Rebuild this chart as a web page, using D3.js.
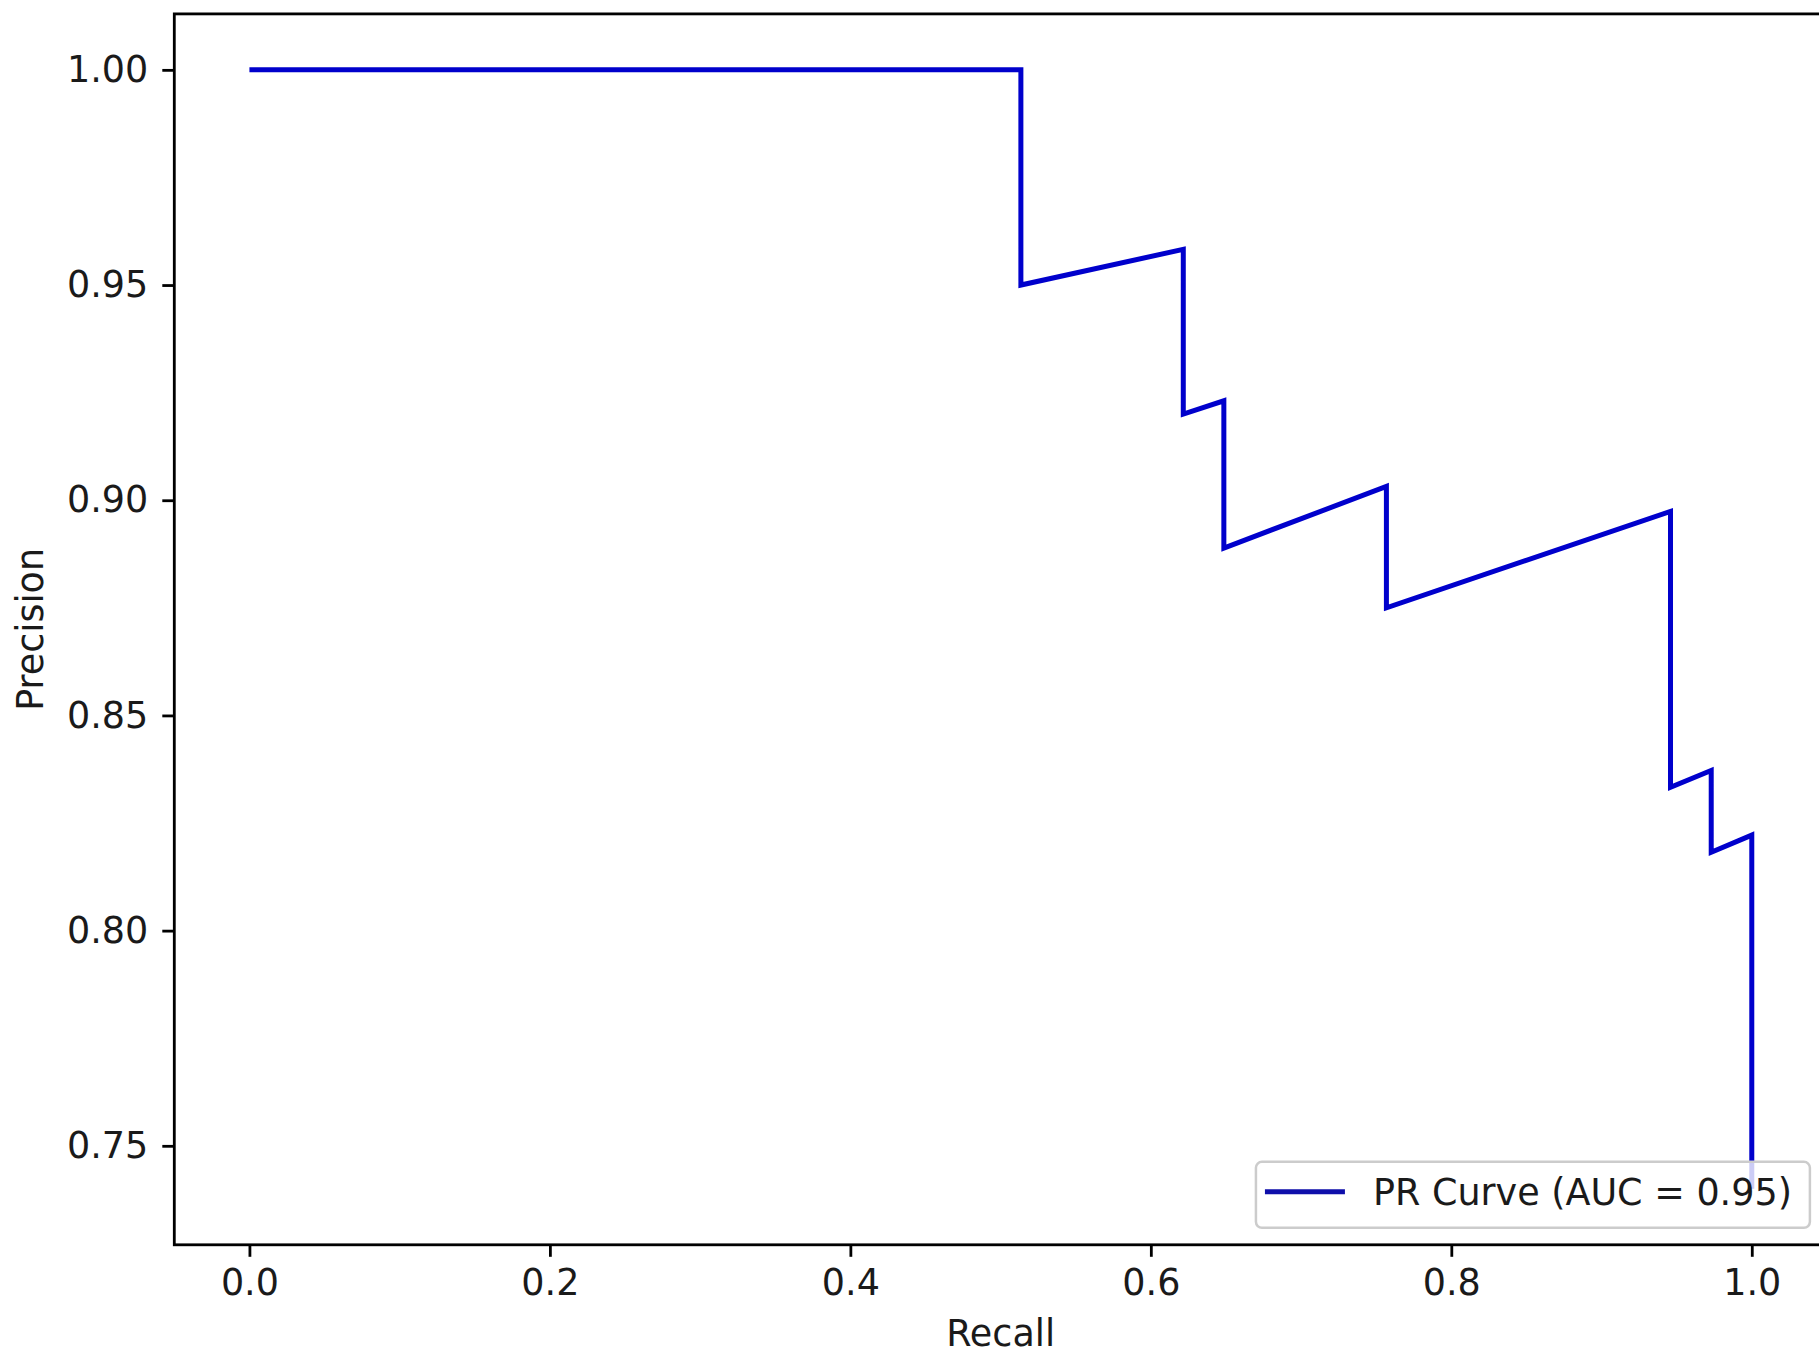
<!DOCTYPE html>
<html>
<head>
<meta charset="utf-8">
<script src="https://cdn.jsdelivr.net/npm/d3@7"></script>
<style>
  body { margin: 0; background: #fff; }
  text { font-family: "DejaVu Sans", sans-serif; }
</style>
</head>
<body>
<div id="chart-area"></div>
<script>
// values
var recall    = [0, 0.5135, 0.5135, 0.6216, 0.6216, 0.6486, 0.6486, 0.7568, 0.7568, 0.9459, 0.9459, 0.9730, 0.9730, 1.0, 1.0];
var precision = [1.0, 1.0, 0.9500, 0.9583, 0.9200, 0.9231, 0.8889, 0.9032, 0.8750, 0.8974, 0.8333, 0.8372, 0.8182, 0.8222, 0.7400];
var xTicks = [0.0, 0.2, 0.4, 0.6, 0.8, 1.0];
var yTicks = [0.75, 0.80, 0.85, 0.90, 0.95, 1.00];
var seriesLabel = "PR Curve (AUC = 0.95)";

var W = 1819, H = 1356;
var margin = {left: 174.3, top: 13.9};
var width = 1652.6, height = 1230.9;
var fs = 36.5;

var svg = d3.select("#chart-area").append("svg")
            .attr("width", W)
            .attr("height", H);

var g = svg.append("g")
           .attr("transform", "translate(" + margin.left + "," + margin.top + ")");

var data = recall.map((r, i) => { return {r: r, p: precision[i]}; });

// matplotlib style 5% margins
var xr = d3.extent(data, d => d.r), yr = d3.extent(data, d => d.p);
var xpad = (xr[1] - xr[0]) * 0.05, ypad = (yr[1] - yr[0]) * 0.05;

var x = d3.scaleLinear()
          .domain([xr[0] - xpad, xr[1] + xpad])
          .range([0, width]);

var y = d3.scaleLinear()
          .domain([yr[0] - ypad, yr[1] + ypad])
          .range([height, 0]);

// axes
var xAxis = g.append("g")
             .attr("transform", "translate(0," + height + ")")
             .call(d3.axisBottom(x).tickValues(xTicks).tickFormat(d3.format(".1f"))
                     .tickSize(12).tickPadding(12));
var yAxis = g.append("g")
             .call(d3.axisLeft(y).tickValues(yTicks).tickFormat(d3.format(".2f"))
                     .tickSize(12).tickPadding(14));

[xAxis, yAxis].forEach((a) => {
  a.select(".domain").remove();
  a.selectAll("line").attr("stroke", "#000").attr("stroke-width", 2.8);
  a.selectAll("text").attr("font-size", fs).attr("fill", "#1a1a1a")
   .style("font-family", "'DejaVu Sans', sans-serif");
});

// curve
var line = d3.line()
             .x(d => x(d.r))
             .y(d => y(d.p));

g.append("path")
 .datum(data)
 .attr("d", line)
 .attr("fill", "none")
 .attr("stroke", "#0000cc")
 .attr("stroke-width", 5)
 .attr("stroke-linejoin", "miter");

// frame
g.append("rect")
 .attr("x", 0).attr("y", 0)
 .attr("width", width).attr("height", height)
 .attr("fill", "none")
 .attr("stroke", "#000")
 .attr("stroke-width", 2.8);

// axis labels
svg.append("text")
   .attr("x", margin.left + width / 2)
   .attr("y", 1346)
   .attr("text-anchor", "middle")
   .attr("font-size", fs)
   .attr("fill", "#1a1a1a")
   .text("Recall");

svg.append("text")
   .attr("transform", "translate(43," + (margin.top + height / 2) + ") rotate(-90)")
   .attr("text-anchor", "middle")
   .attr("font-size", fs)
   .attr("fill", "#1a1a1a")
   .text("Precision");

// legend, lower right
var leg = g.append("g");
var legText = leg.append("text")
                 .attr("font-size", fs)
                 .attr("fill", "#1a1a1a")
                 .text(seriesLabel);
var tw = legText.node().getComputedTextLength();
var boxW = 117 + tw + 18, boxH = 66;
var bx = width - 17 - boxW, by = height - 17 - boxH;

leg.insert("rect", "text")
   .attr("x", bx).attr("y", by)
   .attr("width", boxW).attr("height", boxH)
   .attr("rx", 6)
   .attr("fill", "#fff").attr("fill-opacity", 0.8)
   .attr("stroke", "#cccccc").attr("stroke-width", 2.5);

leg.insert("line", "text")
   .attr("x1", bx + 9).attr("x2", bx + 89)
   .attr("y1", by + 30).attr("y2", by + 30)
   .attr("stroke", "#0e0eaa")
   .attr("stroke-width", 5);

legText.attr("x", bx + 117).attr("y", by + 43);
</script>
</body>
</html>
